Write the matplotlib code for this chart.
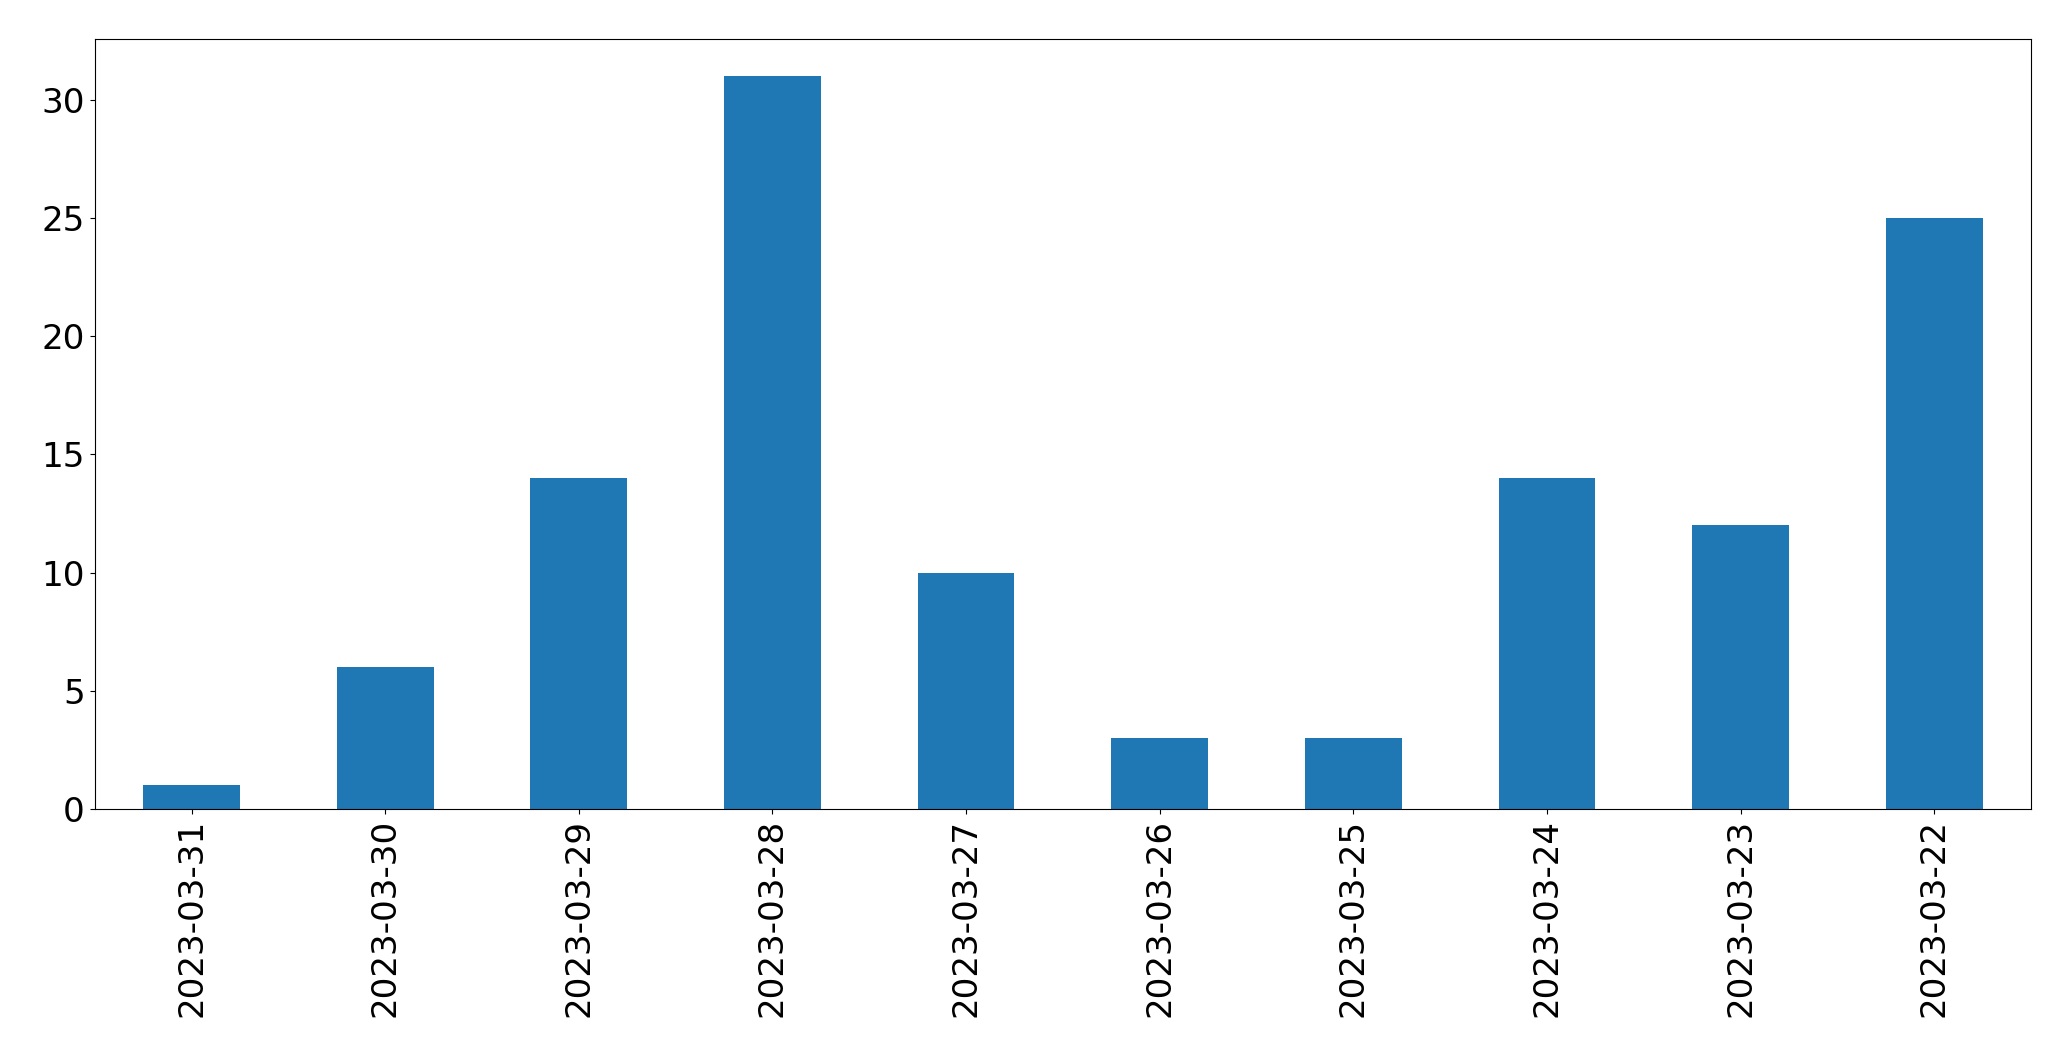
import matplotlib.pyplot as plt
import numpy as np

plt.rcParams.update({
    'font.size': 24.6,
    'xtick.labelsize': 24.6,
    'ytick.labelsize': 24.6,
})

dates = ['2023-03-31', '2023-03-30', '2023-03-29', '2023-03-28', '2023-03-27',
         '2023-03-26', '2023-03-25', '2023-03-24', '2023-03-23', '2023-03-22']
counts = [1, 6, 14, 31, 10, 3, 3, 14, 12, 25]

fig, ax = plt.subplots(figsize=(20.71, 10.61), dpi=100)
x = np.arange(len(dates))
ax.bar(x, counts, width=0.5, color='tab:blue')
ax.set_xticks(x)
ax.set_xticklabels(dates, rotation=90)
ax.set_xlim(-0.5, len(dates) - 0.5)
ax.set_ylim(0, max(counts) * 1.05)

fig.subplots_adjust(left=94.7 / 2071, right=2031 / 2071, top=1 - 39.3 / 1061, bottom=1 - 809 / 1061)
plt.savefig('out.png', dpi=100)
